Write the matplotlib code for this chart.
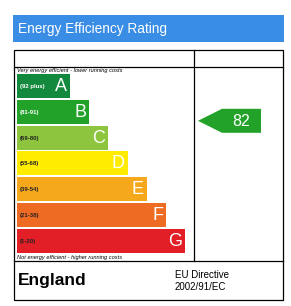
import matplotlib.pyplot as plt
from matplotlib.patches import Rectangle, Polygon

plt.rcParams['font.family'] = ['Liberation Sans', 'DejaVu Sans']

title = 'Energy Efficiency Rating'
bands = ['A', 'B', 'C', 'D', 'E', 'F', 'G']
ranges = ['(92 plus)', '(81-91)', '(69-80)', '(55-68)', '(39-54)', '(21-38)', '(1-20)']
colors = ['#12893d', '#22a228', '#8dc53e', '#ffec00', '#f6a81d', '#ee6b24', '#e21e26']
range_colors = ['white', 'white', '#222222', '#222222', '#222222', '#222222', '#222222']
current_rating = 82
current_band = 'B'
top_note = 'Very energy efficient - lower running costs'
bottom_note = 'Not energy efficient - higher running costs'
country = 'England'
directive = 'EU Directive\n2002/91/EC'

W, H = 291, 306
fig = plt.figure(figsize=(W / 100, H / 100), dpi=100)
ax = fig.add_axes([0, 0, 1, 1])
ax.set_xlim(0, W)
ax.set_ylim(H, 0)
ax.axis('off')

# header
ax.add_patch(Rectangle((13, 15), 271, 27, color='#3a8de5', lw=0))
ax.text(18.5, 29, title, color='white', fontsize=9.8, va='center', ha='left')

# frame
lw = 0.9
ax.add_patch(Rectangle((13.5, 50), 269.5, 250, fill=False, ec='black', lw=lw))
ax.plot([13.5, 283], [67, 67], color='black', lw=lw)
ax.plot([13.5, 283], [261, 261], color='black', lw=lw)
ax.plot([193.5, 193.5], [50, 261], color='black', lw=lw)

# bars
bar_top = 74
pitch = 25.8
bar_h = 24
x0 = 17
for i, (b, r, c, rc) in enumerate(zip(bands, ranges, colors, range_colors)):
    y = bar_top + i * pitch
    w = 53 + 19.2 * i
    ax.add_patch(Rectangle((x0, y), w, bar_h, color=c, lw=0))
    ax.text(x0 + 3, y + bar_h / 2 + 0.5, r, fontsize=4.3, color=rc, va='center', ha='left',
            fontweight='bold')
    ax.text(x0 + w - 3, y + bar_h / 2 + 0.5, b, fontsize=13, color='white', va='center', ha='right')

ax.text(x0, 70.5, top_note, fontsize=4.1, style='italic', va='center', ha='left')
ax.text(x0, 257.5, bottom_note, fontsize=4.1, style='italic', va='center', ha='left')

# current rating arrow
bi = bands.index(current_band)
yc = bar_top + bi * pitch + bar_h / 2 + 9
tip, mid, right, half = 198, 222, 261, 12
ax.add_patch(Polygon([(tip, yc), (mid, yc - half), (right, yc - half), (right, yc + half),
                      (mid, yc + half)], closed=True, color=colors[bi], lw=0))
ax.text((mid + right) / 2, yc + 0.5, str(current_rating), fontsize=11.5, color='white',
        va='center', ha='center')

# footer
ax.text(18, 281, country, fontsize=12.5, fontweight='bold', va='center', ha='left')
ax.text(175, 281, directive, fontsize=7, va='center', ha='left', linespacing=1.2)

fig.savefig('out.png', dpi=100)
